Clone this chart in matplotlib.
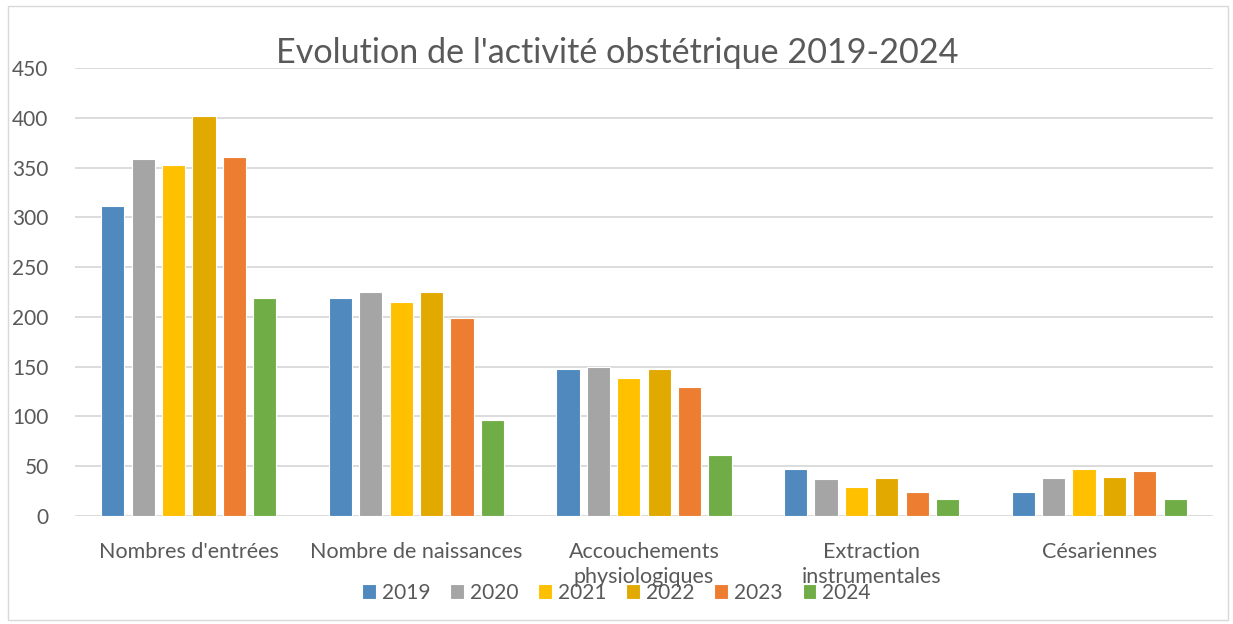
import numpy as np
import matplotlib
matplotlib.use("Agg")
from matplotlib import pyplot as plt
from matplotlib.patches import Rectangle

categories = ["Nombres d'entrées", "Nombre de naissances", "Accouchements\nphysiologiques",
              "Extraction\ninstrumentales", "Césariennes"]
years = ["2019", "2020", "2021", "2022", "2023", "2024"]
v2019 = [311, 219, 148, 47, 24]
v2020 = [359, 225, 150, 37, 38]
v2021 = [353, 215, 139, 29, 47]
v2022 = [402, 225, 148, 38, 39]
v2023 = [361, 199, 130, 24, 45]
v2024 = [219, 96, 61, 17, 17]
series = [v2019, v2020, v2021, v2022, v2023, v2024]
colors = ["#4F89BE", "#A5A5A5", "#FFC000", "#E2AA00", "#ED7D31", "#70AD47"]

plt.rcParams['font.family'] = ['Lato', 'DejaVu Sans']
txt = "#595959"

fig = plt.figure(figsize=(12.33, 6.24), dpi=100)
fig.patches.append(Rectangle((8/1233, 4/624), 1220/1233, 614/624, transform=fig.transFigure,
                             fill=False, edgecolor="#D9D9D9", linewidth=1))
ax = fig.add_axes([75/1233, 1 - 516/624, 1138/1233, 448/624])

x = np.arange(len(categories))
pitch = 0.1335
w = 0.102
for i, (vals, c) in enumerate(zip(series, colors)):
    ax.bar(x + (i - 2.5) * pitch, vals, width=w, color=c, edgecolor="white",
           linewidth=0.8, label=years[i], zorder=3)

ax.set_xlim(-0.5, len(categories) - 0.5)
ax.set_ylim(0, 450)
ax.set_yticks(range(0, 451, 50))
ax.yaxis.grid(True, color="#D9D9D9", linewidth=1.3, zorder=0)
ax.set_axisbelow(True)
for s in ax.spines.values():
    s.set_visible(False)
ax.tick_params(axis="y", length=0, pad=19, labelsize=15, labelcolor=txt)
ax.set_xticks(x)
ax.set_xticklabels(categories, fontsize=15.5, color=txt, linespacing=1.3, va="top")
ax.tick_params(axis="x", length=0, pad=19)

# titre
fig.text(0.501, 1 - 53/624, "Evolution de l'activité obstétrique 2019-2024",
         ha="center", va="center", fontsize=24.6, color=txt)

ax.legend(loc="center", bbox_to_anchor=(0.5, 1 - 593/624), bbox_transform=fig.transFigure,
          ncol=6, frameon=False, fontsize=15, labelcolor=txt, handlelength=0.65,
          handleheight=0.75, handletextpad=0.3, columnspacing=0.95)

fig.savefig("out.png", dpi=100)
